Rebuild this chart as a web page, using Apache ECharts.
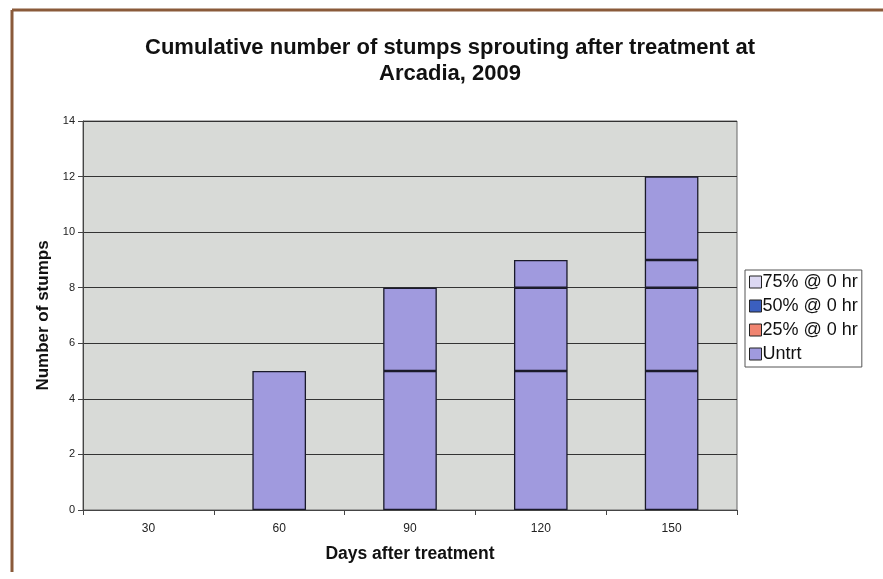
<!DOCTYPE html>
<html><head><meta charset="utf-8">
<script src="https://cdn.jsdelivr.net/npm/echarts@6/dist/echarts.min.js"></script>
<style>html,body{margin:0;padding:0;background:#fff}#c{width:883px;height:579px}</style>
</head><body><div id="c"></div>
<script>
const categories = ['30', '60', '90', '120', '150'];
const legendNames = ['75% @ 0 hr', '50% @ 0 hr', '25% @ 0 hr', 'Untrt'];
const legendColors = ['#dcd8f2', '#3b5fbf', '#f08470', '#a09ade'];
const pct75 = [0, 0, 0, 0, 0];
const pct50 = [0, 0, 0, 0, 0];
const pct25 = [0, 0, 0, 0, 0];
// Untrt bar drawn as stacked segments (as in the reference)
const untrtSeg1 = [0, 5, 5, 5, 5];
const untrtSeg2 = [0, 0, 3, 3, 3];
const untrtSeg3 = [0, 0, 0, 1, 1];
const untrtSeg4 = [0, 0, 0, 0, 3];
const yTicks = [0, 2, 4, 6, 8, 10, 12, 14];

const chart = echarts.init(document.getElementById('c'), null, {renderer: 'canvas'});
const barStyle = c => ({color: c, borderColor: '#1a1a2a', borderWidth: 1.3});
const series = [];
[pct75, pct50, pct25].forEach((d, i) => {
  series.push({name: legendNames[i], type: 'bar', stack: 's', barWidth: '41%', data: d.map(v => v || null), itemStyle: barStyle(legendColors[i])});
});
[untrtSeg1, untrtSeg2, untrtSeg3, untrtSeg4].forEach(d => {
  series.push({name: 'Untrt', type: 'bar', stack: 'u', barWidth: '41%', barGap: '-100%', data: d.map(v => v || null), itemStyle: barStyle(legendColors[3])});
});
chart.setOption({
  animation: false,
  backgroundColor: '#fff',
  textStyle: {fontFamily: 'Liberation Sans, Arial, sans-serif'},
  graphic: [
    {type: 'line', shape: {x1: 12, y1: 10, x2: 883, y2: 10}, style: {stroke: '#8a5a3a', lineWidth: 3}},
    {type: 'line', shape: {x1: 12, y1: 10, x2: 12, y2: 572}, style: {stroke: '#8a5a3a', lineWidth: 3}}
  ],
  title: {
    text: 'Cumulative number of stumps sprouting after treatment at\nArcadia, 2009',
    left: 445, top: 30, textAlign: 'center',
    textStyle: {fontSize: 22, fontWeight: 'bold', color: '#111', lineHeight: 26, fontFamily: 'Liberation Sans, Arial, sans-serif'}
  },
  legend: {
    data: legendNames, orient: 'vertical', left: 745, top: 270,
    itemWidth: 12, itemHeight: 12, itemGap: 6, icon: 'rect',
    backgroundColor: '#fff', borderColor: '#555', borderWidth: 1, padding: [3, 4, 4, 4],
    textStyle: {fontSize: 18, color: '#111', padding: [0, 0, 0, -4]},
    itemStyle: {borderColor: '#222', borderWidth: 1}
  },
  grid: {left: 83, right: 146, top: 121, bottom: 69, show: true, backgroundColor: '#d8dad7', borderColor: '#666', borderWidth: 1},
  xAxis: {
    type: 'category', data: categories,
    name: 'Days after treatment', nameLocation: 'middle', nameGap: 35,
    nameTextStyle: {fontSize: 17.5, fontWeight: 'bold', color: '#111'},
    axisLine: {lineStyle: {color: '#444'}},
    axisTick: {show: true, length: 5, lineStyle: {color: '#444'}},
    axisLabel: {fontSize: 12, color: '#222', margin: 13}
  },
  yAxis: {
    type: 'value', min: 0, max: 14, interval: 2,
    name: 'Number of stumps', nameLocation: 'middle', nameGap: 30,
    nameTextStyle: {fontSize: 17, fontWeight: 'bold', color: '#111'},
    axisLine: {show: true, lineStyle: {color: '#444'}},
    axisTick: {show: true, length: 5, lineStyle: {color: '#444'}},
    axisLabel: {fontSize: 11, color: '#222', margin: 8},
    splitLine: {lineStyle: {color: '#333', width: 1}}
  },
  series: series
});
</script></body></html>
